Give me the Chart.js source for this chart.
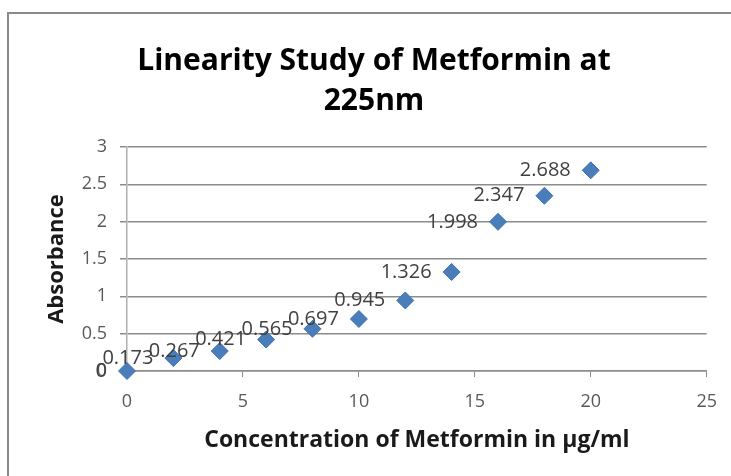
<!DOCTYPE html>
<html>
<head>
<meta charset="utf-8">
<script src="https://cdn.jsdelivr.net/npm/chart.js@4.4.0/dist/chart.umd.min.js"></script>
<style>
html,body{margin:0;padding:0;background:#fff;}
#wrap{position:relative;width:731px;height:476px;overflow:hidden;}
#frame{position:absolute;left:7px;top:12px;width:740px;height:480px;border-left:2px solid #8a8a8a;border-top:2px solid #8a8a8a;box-sizing:border-box;}
canvas{position:absolute;left:0;top:0;}
</style>
</head>
<body>
<div id="wrap">
<div id="frame"></div>
<canvas id="c" width="731" height="476"></canvas>
</div>
<script>
const concentrations = [0, 2, 4, 6, 8, 10, 12, 14, 16, 18, 20];
const absorbance = [0, 0.173, 0.267, 0.421, 0.565, 0.697, 0.945, 1.326, 1.998, 2.347, 2.688];
const pointLabels = ['0', '0.173', '0.267', '0.421', '0.565', '0.697', '0.945', '1.326', '1.998', '2.347', '2.688'];
const titleLines = ['Linearity Study of Metformin at', '225nm'];
const xTitle = 'Concentration of Metformin in µg/ml';
const yTitle = 'Absorbance';

const points = concentrations.map((x, i) => ({x: x, y: absorbance[i]}));

const labelPlugin = {
  id: 'pointLabels',
  afterDatasetsDraw(chart) {
    const ctx = chart.ctx;
    const meta = chart.getDatasetMeta(0);
    ctx.save();
    ctx.font = '20px "Open Sans"';
    ctx.fillStyle = '#404040';
    ctx.textAlign = 'right';
    ctx.textBaseline = 'middle';
    meta.data.forEach((pt, i) => {
      ctx.fillText(pointLabels[i], pt.x - 20, pt.y);
    });
    ctx.restore();
  }
};

new Chart(document.getElementById('c'), {
  type: 'scatter',
  data: {
    datasets: [{
      data: points,
      clip: false,
      pointStyle: 'rectRot',
      pointRadius: 8.5,
      pointHoverRadius: 8.5,
      backgroundColor: '#4a7ebb',
      borderColor: '#3f72ad',
      borderWidth: 1
    }]
  },
  options: {
    responsive: false,
    animation: false,
    layout: {padding: {left: 41, right: 24, top: 0, bottom: 0}},
    plugins: {
      legend: {display: false},
      tooltip: {enabled: false},
      title: {
        display: true,
        text: titleLines,
        color: '#000',
        font: {family: 'Open Sans', size: 30, weight: 'bold', lineHeight: 1.33},
        padding: {top: 42, bottom: 25.2}
      }
    },
    scales: {
      x: {
        type: 'linear',
        min: 0, max: 25,
        afterFit(s) { s.height = 105; },
        ticks: {stepSize: 5, color: '#595959', font: {family: 'Open Sans', size: 18}, padding: 14, maxRotation: 0},
        grid: {drawOnChartArea: false, drawTicks: true, tickLength: 6, color: '#8c8c8c'},
        border: {display: true, color: '#8c8c8c', width: 1.5},
        title: {display: true, text: xTitle, color: '#1a1a1a', font: {family: 'Open Sans', size: 23, weight: 'bold', lineHeight: 1.2}, padding: {top: 0, bottom: 22.2}}
      },
      y: {
        type: 'linear',
        min: 0, max: 3,
        afterFit(s) { s.width = 86; },
        ticks: {stepSize: 0.5, color: '#595959', font: {family: 'Open Sans', size: 18}, padding: 13, callback: (v) => String(v)},
        grid: {drawOnChartArea: true, drawTicks: true, tickLength: 7, color: '#8c8c8c', lineWidth: 1.5},
        border: {display: true, color: '#b0b0b0', width: 1.5},
        title: {display: true, text: yTitle, color: '#1a1a1a', font: {family: 'Open Sans', size: 22, weight: 'bold', lineHeight: 1.2}, padding: {top: 2.8, bottom: 0}}
      }
    }
  },
  plugins: [labelPlugin]
});
</script>
</body>
</html>
